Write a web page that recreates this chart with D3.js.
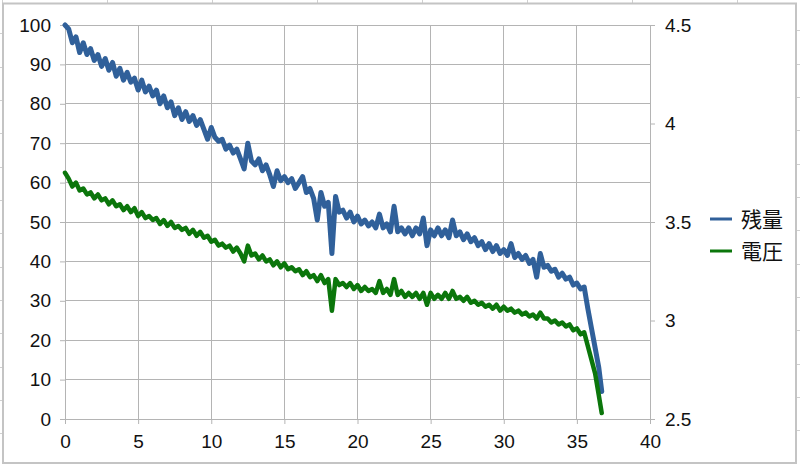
<!DOCTYPE html>
<html><head><meta charset="utf-8">
<script src="https://cdn.jsdelivr.net/npm/d3@7/dist/d3.min.js"></script>
<style>html,body{margin:0;padding:0;background:#fff;}svg{display:block;}</style>
</head><body>
<svg id="c" width="800" height="465"></svg>
<script>
// elapsed time (hours)
const time = [
  0,0.25,0.5,0.75,1,1.25,1.5,1.75,
  2,2.25,2.5,2.75,3,3.25,3.5,3.75,
  4,4.25,4.5,4.75,5,5.25,5.5,5.75,
  6,6.25,6.5,6.75,7,7.25,7.5,7.75,
  8,8.25,8.5,8.75,9,9.25,9.5,9.75,
  10,10.25,10.5,10.75,11,11.25,11.5,11.75,
  12,12.25,12.5,12.75,13,13.25,13.5,13.75,
  14,14.25,14.5,14.75,15,15.25,15.5,15.75,
  16,16.25,16.5,16.75,17,17.25,17.5,17.75,
  18,18.25,18.5,18.75,19,19.25,19.5,19.75,
  20,20.25,20.5,20.75,21,21.25,21.5,21.75,
  22,22.25,22.5,22.75,23,23.25,23.5,23.75,
  24,24.25,24.5,24.75,25,25.25,25.5,25.75,
  26,26.25,26.5,26.75,27,27.25,27.5,27.75,
  28,28.25,28.5,28.75,29,29.25,29.5,29.75,
  30,30.25,30.5,30.75,31,31.25,31.5,31.75,
  32,32.25,32.5,32.75,33,33.25,33.5,33.75,
  34,34.25,34.5,34.75,35,35.25,35.5,35.75,
  36,36.25,36.5,36.7
];
// 残量 (%) — left axis
const remaining = [
  100,99,95.5,97,93,95.5,92.5,94,
  91,92.5,89.5,91.5,88.5,90.5,87,89,
  86,88,85.5,86.5,83.5,86,83,84.5,
  82,83.5,80,82,79,80.5,77,79,
  76,78,75.5,77,74.5,76,73.5,71,
  74,71.5,70.5,71,68.5,69.5,67.5,68.5,
  66,63.5,70,65.5,64.5,66,63,64.5,
  62,59,63,60.5,61.5,60,61,58.5,
  60,61.5,57.5,58.5,56,50.5,57.5,54,
  55,42,56.5,52.5,53,51,52.5,50,
  51.5,49.5,50.5,49,50,48.5,52,48.5,
  49.5,47.5,54,47.5,48.5,47,48.5,46.5,
  48.5,47,51,44,48,46.5,48.5,46.5,
  48,46,50.5,46.5,47.5,45.5,47,45,
  46,44,45,43,44.5,42.5,44,42,
  43,41.5,44.5,41,42,40.5,41.5,39.5,
  40.5,36,42,38.5,39,37.5,38,36,
  37,35.5,36,34,34.5,33,33.5,28,
  23,18,13,7
];
// 電圧 (V) — right axis
const voltage = [
  3.75,3.72,3.68,3.70,3.66,3.67,3.64,3.65,
  3.62,3.64,3.61,3.62,3.59,3.61,3.58,3.59,
  3.56,3.58,3.55,3.57,3.53,3.55,3.52,3.53,
  3.51,3.52,3.49,3.51,3.48,3.50,3.47,3.48,
  3.46,3.47,3.44,3.46,3.43,3.45,3.42,3.43,
  3.40,3.41,3.38,3.39,3.37,3.38,3.35,3.37,
  3.34,3.30,3.38,3.33,3.34,3.31,3.33,3.30,
  3.31,3.28,3.30,3.27,3.29,3.26,3.27,3.25,
  3.26,3.23,3.25,3.22,3.23,3.20,3.23,3.19,
  3.21,3.05,3.21,3.18,3.19,3.17,3.19,3.16,
  3.18,3.15,3.17,3.15,3.16,3.14,3.20,3.14,
  3.16,3.13,3.21,3.13,3.15,3.12,3.14,3.12,
  3.14,3.11,3.14,3.08,3.14,3.11,3.13,3.11,
  3.14,3.11,3.15,3.11,3.12,3.10,3.12,3.09,
  3.10,3.08,3.09,3.07,3.08,3.06,3.08,3.05,
  3.07,3.05,3.06,3.04,3.05,3.03,3.04,3.02,
  3.03,3.01,3.04,3.01,3.01,2.99,3.00,2.98,
  2.99,2.97,2.98,2.95,2.96,2.93,2.94,2.87,
  2.80,2.73,2.62,2.53
];
const seriesNames = ["残量","電圧"];
const xTicks = [0,5,10,15,20,25,30,35,40];
const yLeftTicks = [0,10,20,30,40,50,60,70,80,90,100];
const yRightTicks = [2.5,3,3.5,4,4.5];

const svg = d3.select("#c");
const font = "'Liberation Sans', Arial, sans-serif";
const gridColor = "#b4b4b4";
const blue = "#30609a", green = "#0b760b";

// spreadsheet cell lines around the chart
const bg = svg.append("g");
[2,107,212,317,422,527,632,737].forEach(x=>{
  bg.append("line").attr("x1",x+0.5).attr("x2",x+0.5).attr("y1",0).attr("y2",3).attr("stroke","#d0d0d0");
});
[33,67,100,133,167,200,233,267,300,333,367,400,433].forEach(y=>{
  bg.append("line").attr("x1",0).attr("x2",3).attr("y1",y+0.5).attr("y2",y+0.5).attr("stroke","#d0d0d0");
  bg.append("line").attr("x1",796).attr("x2",800).attr("y1",y-2.5).attr("y2",y-2.5).attr("stroke","#d0d0d0");
});
svg.append("rect").attr("x",3).attr("y",3.5).attr("width",793).attr("height",459.5)
  .attr("fill","#fff").attr("stroke","#c4c4c4").attr("stroke-width",2);

const x = d3.scaleLinear().domain([0,40]).range([65,650]);
const yL = d3.scaleLinear().domain([0,100]).range([419,25]);
const yR = d3.scaleLinear().domain([2.5,4.5]).range([419,25]);

// grid
const grid = svg.append("g").attr("stroke",gridColor).attr("stroke-width",1).attr("shape-rendering","crispEdges");
xTicks.forEach(t=>grid.append("line").attr("x1",x(t)).attr("x2",x(t)).attr("y1",yL(0)).attr("y2",yL(100)));
yLeftTicks.forEach(t=>grid.append("line").attr("x1",x(0)).attr("x2",x(40)).attr("y1",yL(t)).attr("y2",yL(t)));

// axes
function styleAxis(g){
  g.select(".domain").attr("stroke",gridColor);
  g.selectAll(".tick line").attr("stroke",gridColor);
  g.selectAll(".tick text").attr("fill","#111").style("font-family",font).style("font-size","19px");
}
svg.append("g").attr("transform",`translate(0,${yL(0)})`)
  .call(d3.axisBottom(x).tickValues(xTicks).tickSize(5).tickPadding(6).tickFormat(d3.format("d")))
  .call(styleAxis).call(g=>g.selectAll(".tick text").attr("dy","0.95em"));
svg.append("g").attr("transform",`translate(${x(0)},0)`)
  .call(d3.axisLeft(yL).tickValues(yLeftTicks).tickSize(5).tickPadding(9).tickFormat(d3.format("d")))
  .call(styleAxis);
svg.append("g").attr("transform",`translate(${x(40)},0)`)
  .call(d3.axisRight(yR).tickValues(yRightTicks).tickSize(5).tickPadding(10).tickFormat(d=>String(d)))
  .call(styleAxis);

// lines
const n = Math.min(time.length, remaining.length, voltage.length);
const idx = d3.range(n);
const lineL = d3.line().x(i=>x(time[i])).y(i=>yL(remaining[i]));
const lineR = d3.line().x(i=>x(time[i])).y(i=>yR(voltage[i]));
svg.append("path").attr("d",lineL(idx)).attr("fill","none").attr("stroke",blue)
  .attr("stroke-width",5).attr("stroke-linejoin","round").attr("stroke-linecap","round");
svg.append("path").attr("d",lineR(idx)).attr("fill","none").attr("stroke",green)
  .attr("stroke-width",4.5).attr("stroke-linejoin","round").attr("stroke-linecap","round");

// legend
const legend = svg.append("g");
[[seriesNames[0],blue,219],[seriesNames[1],green,251]].forEach(([name,col,y])=>{
  legend.append("line").attr("x1",710).attr("x2",732).attr("y1",y).attr("y2",y)
    .attr("stroke",col).attr("stroke-width",3);
  legend.append("text").attr("x",741).attr("y",y).attr("dy","0.36em").text(name)
    .style("font-family","'Noto Sans CJK JP', sans-serif").style("font-size","21px").attr("fill","#111");
});
</script>
</body></html>
